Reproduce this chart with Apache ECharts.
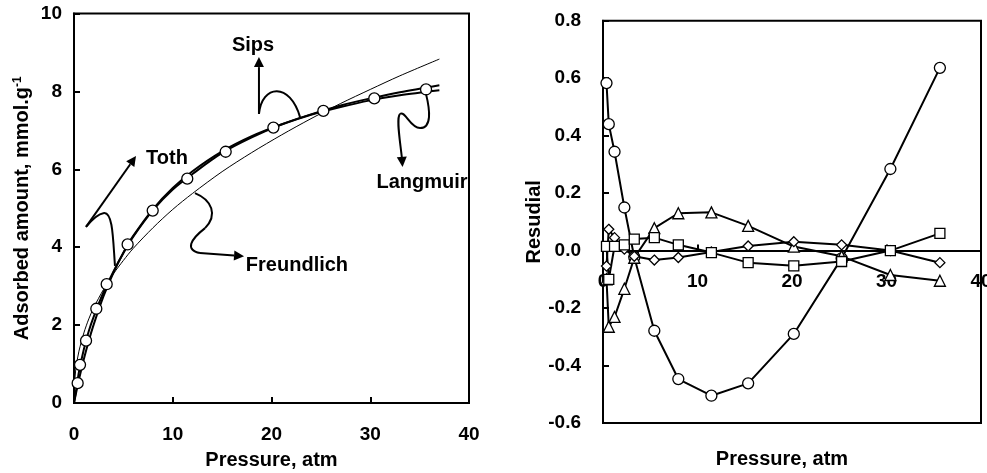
<!DOCTYPE html>
<html><head><meta charset="utf-8">
<script src="https://cdn.jsdelivr.net/npm/echarts@6/dist/echarts.min.js"></script>
<style>html,body{margin:0;padding:0;background:#fff}#c{width:987px;height:473px}</style>
</head><body><div id="c"></div>
<script>
// ---- data ----
const pressure = [0.37, 0.61, 1.22, 2.26, 3.31, 5.43, 7.97, 11.47, 15.36, 20.19, 25.25, 30.41, 35.65];
const adsorbed = [0.51, 0.98, 1.60, 2.42, 3.05, 4.07, 4.94, 5.76, 6.45, 7.07, 7.50, 7.82, 8.05];

const curveP = [0, 0.25, 0.5, 1, 1.5, 2, 3, 4, 5, 6, 8, 10, 12, 15, 18, 21, 24, 27, 30, 33, 37];
const sipsCurve = [0, 0.38, 0.80, 1.38, 1.85, 2.22, 2.85, 3.38, 3.85, 4.27, 4.95, 5.48, 5.88, 6.42, 6.82, 7.15, 7.41, 7.64, 7.82, 7.98, 8.16];
const langmuirCurve = [0, 0.31, 0.60, 1.13, 1.60, 2.02, 2.75, 3.35, 3.86, 4.29, 4.98, 5.52, 5.95, 6.46, 6.85, 7.15, 7.40, 7.60, 7.77, 7.90, 8.03];
const freundP = [0, 0.1, 0.25, 0.5, 1, 1.5, 2, 3, 4, 5, 6, 8, 10, 12, 15, 18, 21, 24, 27, 30, 33, 37];
const freundlichCurve = [0, 0.66, 0.98, 1.33, 1.80, 2.16, 2.45, 2.92, 3.32, 3.66, 3.97, 4.50, 4.97, 5.38, 5.94, 6.43, 6.88, 7.30, 7.69, 8.05, 8.40, 8.83];

const resCircle = [0.583, 0.44, 0.344, 0.150, -0.023, -0.279, -0.447, -0.505, -0.462, -0.29, -0.027, 0.284, 0.636];
const resTriangle = [-0.10, -0.265, -0.231, -0.133, -0.025, 0.078, 0.13, 0.133, 0.086, 0.014, -0.02, -0.085, -0.105];
const resSquare = [0.015, -0.10, 0.015, 0.02, 0.04, 0.045, 0.02, -0.007, -0.042, -0.053, -0.038, 0.0, 0.06];
const resDiamond = [-0.054, 0.074, 0.045, 0.005, -0.02, -0.033, -0.024, -0.005, 0.016, 0.031, 0.02, 0.0, -0.042];

const leftXName = 'Pressure, atm';
const leftYName = 'Adsorbed amount, mmol.g{sup|-1}';
const rightXName = 'Pressure, atm';
const rightYName = 'Resudial';

// annotations in data units of the left panel
const annotations = [
  {text: 'Sips', at: [18.13, 9.17], path: [[22.89,7.34],[21.87,8.24],[19.04,8.19],[18.73,7.42]], tip: [18.73,8.88]},
  {text: 'Toth', at: [9.42, 6.29], path: [[4.15,3.52],[3.95,4.19],[3.95,4.90],[3.04,4.88],[2.33,4.85],[1.62,4.65],[1.215,4.52]], tip: [6.28,6.34]},
  {text: 'Freundlich', at: [22.58, 3.54], path: [[12.25,5.39],[13.97,5.21],[14.58,4.83],[13.27,4.49],[11.75,4.19],[11.24,3.93],[12.76,3.85]], tip: [17.22,3.77]},
  {text: 'Langmuir', at: [35.24, 5.65], path: [[35.65,7.93],[36.05,7.52],[36.25,7.06],[35.04,7.06],[34.03,7.06],[33.52,7.52],[33.01,7.42],[32.61,7.32],[33.01,6.75],[33.2,6.3]], tip: [33.27,6.06]}
];

const zip = (a, b) => a.map((v, i) => [v, b[i]]);
const FONT = '"Liberation Sans", Arial, sans-serif';
const txt = (s) => ({color: '#000', fontFamily: FONT, fontWeight: 'bold', fontSize: s});

const chart = echarts.init(document.getElementById('c'), null, {renderer: 'canvas'});

function axisCommon() {
  return {
    type: 'value',
    axisLine: {onZero: false, lineStyle: {color: '#000', width: 2}},
    axisTick: {inside: true, length: 6, lineStyle: {color: '#000', width: 2}},
    splitLine: {show: false},
  };
}

const gridStyle = {show: true, borderColor: '#000', borderWidth: 2, backgroundColor: 'transparent', containLabel: false, outerBoundsMode: 'none'};

// right panel geometry
const rGrid = {left: 603, top: 20.7, width: 378, height: 402.3};
const rYMin = -0.6, rYMax = 0.8;
// shift the right x axis from the grid bottom up to the value 0
const rZeroOffset = -rGrid.height * (0 - rYMin) / (rYMax - rYMin);

const markerStyle = {color: '#fff', borderColor: '#000', borderWidth: 1.3, opacity: 1};
const lineSeries = (name, data, w, xi) => ({
  name, type: 'line', xAxisIndex: xi, yAxisIndex: xi, data, smooth: 0.3, showSymbol: false, symbol: 'none',
  lineStyle: {color: '#000', width: w}, silent: true, animation: false
});
const resSeries = (name, data, sym, size) => ({
  name, type: 'line', xAxisIndex: 1, yAxisIndex: 1, data, symbol: sym, symbolSize: size, showSymbol: true,
  lineStyle: {color: '#000', width: 2}, itemStyle: markerStyle,
  animation: false
});

const option = {
  animation: false,
  backgroundColor: '#fff',
  grid: [
    Object.assign({left: 74, top: 13.5, width: 395, height: 389.5}, gridStyle),
    Object.assign({}, rGrid, gridStyle)
  ],
  xAxis: [
    Object.assign(axisCommon(), {gridIndex: 0, min: 0, max: 40, interval: 10,
      axisLabel: Object.assign(txt(19), {margin: 22}),
      name: leftXName, nameLocation: 'middle', nameGap: 47, nameTextStyle: txt(20)}),
    Object.assign(axisCommon(), {gridIndex: 1, min: 0, max: 40, interval: 10, position: 'bottom', offset: rZeroOffset,
      axisLabel: Object.assign(txt(19), {margin: 22}),
      name: rightXName, nameLocation: 'middle', nameGap: 199,
      nameTextStyle: Object.assign(txt(20), {padding: [0, 20, 0, 0]})})
  ],
  yAxis: [
    Object.assign(axisCommon(), {gridIndex: 0, min: 0, max: 10, interval: 2,
      axisLabel: Object.assign(txt(19), {margin: 12}),
      name: leftYName, nameLocation: 'middle', nameGap: 41,
      nameTextStyle: Object.assign(txt(20), {rich: {sup: {fontFamily: FONT, fontWeight: 'bold', fontSize: 12, color: '#000', verticalAlign: 'top', padding: [0, 0, 9, 0]}}})}),
    Object.assign(axisCommon(), {gridIndex: 1, min: rYMin, max: rYMax, interval: 0.2,
      axisLabel: Object.assign(txt(19), {margin: 22, formatter: v => (Math.abs(v) < 1e-9 ? 0 : v).toFixed(1)}),
      name: rightYName, nameLocation: 'middle', nameGap: 56, nameTextStyle: txt(20)})
  ],
  series: [
    lineSeries('Freundlich', zip(freundP, freundlichCurve), 1, 0),
    lineSeries('Langmuir', zip(curveP, langmuirCurve), 2, 0),
    lineSeries('Sips', zip(curveP, sipsCurve), 2, 0),
    {name: 'Experimental', type: 'scatter', xAxisIndex: 0, yAxisIndex: 0, data: zip(pressure, adsorbed),
      symbol: 'circle', symbolSize: 11, itemStyle: markerStyle, z: 5},
    resSeries('res-circle', zip(pressure, resCircle), 'circle', 11),
    resSeries('res-triangle', zip(pressure, resTriangle), 'triangle', 11),
    resSeries('res-diamond', zip(pressure, resDiamond), 'diamond', 10),
    resSeries('res-square', zip(pressure, resSquare), 'rect', 10)
  ]
};
chart.setOption(option);

// build annotation arrows from data coordinates
const toPx = p => chart.convertToPixel({xAxisIndex: 0, yAxisIndex: 0}, p);
const graphics = [];
annotations.forEach(a => {
  const c = toPx(a.at);
  graphics.push({type: 'text', silent: true, z: 100, style: {text: a.text, x: c[0], y: c[1], font: 'bold 20px ' + FONT, fill: '#000', align: 'center', verticalAlign: 'middle', textAlign: 'center', textVerticalAlign: 'middle'}});
  const pts = a.path.map(toPx);
  for (let i = 0; i + 3 < pts.length; i += 3) {
    graphics.push({type: 'bezierCurve', silent: true, z: 100,
      shape: {x1: pts[i][0], y1: pts[i][1], cpx1: pts[i+1][0], cpy1: pts[i+1][1], cpx2: pts[i+2][0], cpy2: pts[i+2][1], x2: pts[i+3][0], y2: pts[i+3][1]},
      style: {stroke: '#000', lineWidth: 2, fill: null}});
  }
  const last = pts[pts.length - 1];
  const tip = toPx(a.tip);
  let dx = tip[0] - last[0], dy = tip[1] - last[1];
  const L = Math.hypot(dx, dy); dx /= L; dy /= L;
  const hl = 10, hw = 5;
  const bx = tip[0] - hl * dx, by = tip[1] - hl * dy;
  graphics.push({type: 'line', silent: true, z: 100, shape: {x1: last[0], y1: last[1], x2: bx, y2: by}, style: {stroke: '#000', lineWidth: 2}});
  graphics.push({type: 'polygon', silent: true, z: 100,
    shape: {points: [[tip[0], tip[1]], [bx - hw * dy, by + hw * dx], [bx + hw * dy, by - hw * dx]]},
    style: {fill: '#000'}});
});
chart.setOption({graphic: graphics});
</script>
</body></html>
